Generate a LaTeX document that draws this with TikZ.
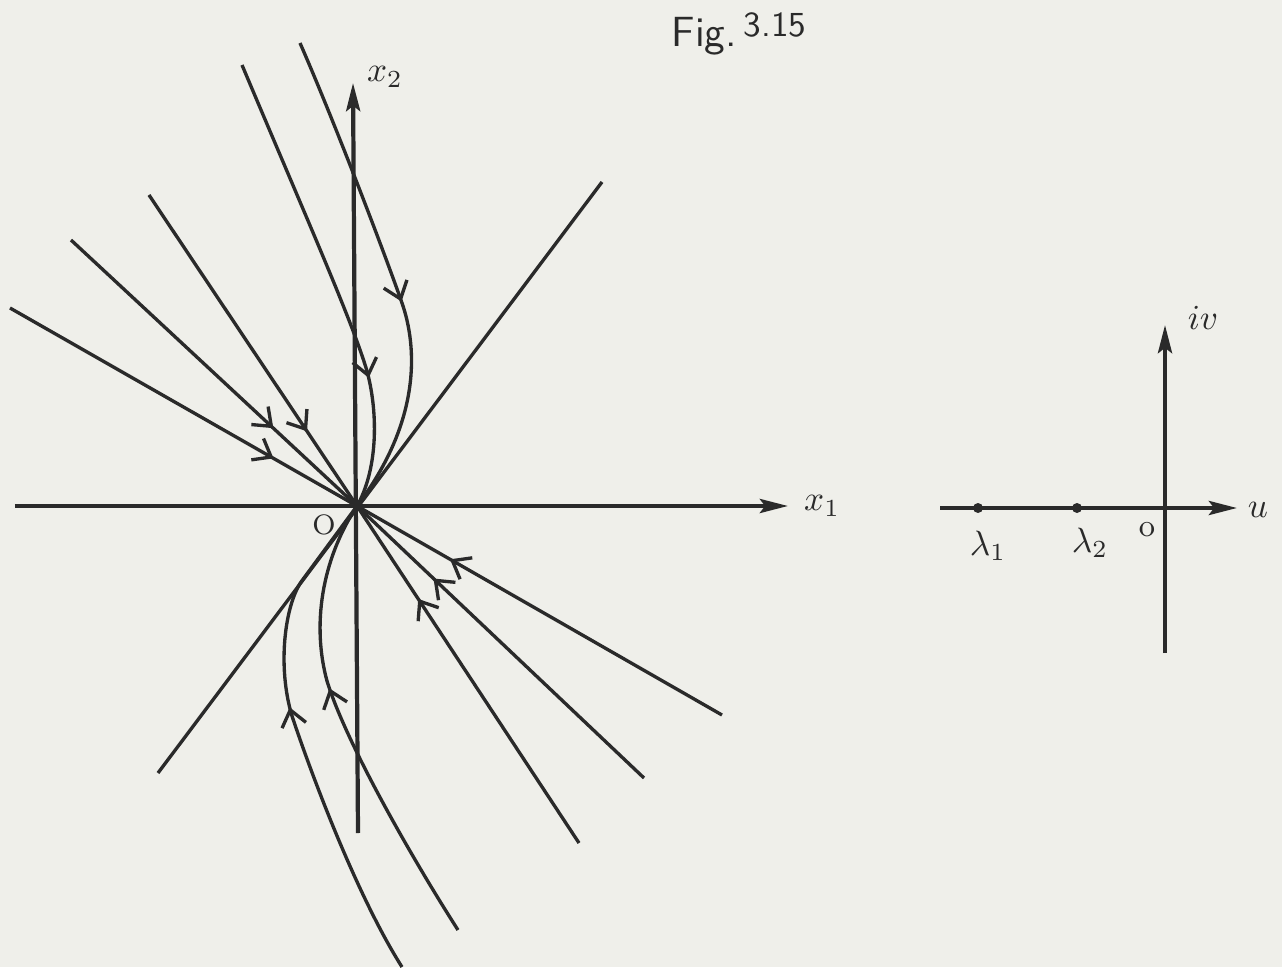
\documentclass[tikz,border=0pt]{standalone}
\usepackage{amsmath,amssymb}
\usepackage{tikz}
\usetikzlibrary{arrows.meta,decorations.markings,positioning,calc}
\definecolor{paper}{RGB}{239,239,234}
\definecolor{ink}{RGB}{42,42,42}

\begin{document}
\begin{tikzpicture}[
    axis/.style={draw=ink, line width=1.2pt, -{Stealth[length=8pt, width=4pt, inset=1.5pt]}},
    traj/.style={draw=ink, line width=0.95pt},
    flow/.style={traj, postaction={decorate}, decoration={markings,
        mark=at position #1 with {\arrow{Straight Barb[length=4.5pt, width=7pt, line width=0.95pt]}}}},
    lbl/.style={text=ink, inner sep=1pt},
    eig/.style={circle, fill=ink, inner sep=0pt, minimum size=0.1cm}]
% page (scanned sheet)
\fill[paper] (-3.57,-4.61) rectangle (9.25,5.06);
\useasboundingbox (-3.57,-4.61) rectangle (9.25,5.06);
% caption
\node[lbl, font=\sffamily] (fig) at (3.82,4.72) {\large Fig.\,\raisebox{3pt}{\normalsize 3.15}};
% phase plane axes
\coordinate (O) at (0,0);
\coordinate (X1a) at (-3.42,0);
\coordinate (X1b) at (4.31,0);
\coordinate (X2a) at (0.01,-3.27);
\coordinate (X2b) at (-0.04,4.23);
\draw[axis] (X1a) -- (X1b);
\draw[axis] (X2a) -- (X2b);
\node[lbl, right=0.12cm of X1b] (x1) {$x_1$};
\node[lbl] (x2) at (0.28,4.29) {$x_2$};
\node[lbl, font=\footnotesize] (o) at (-0.33,-0.19) {O};
% straight trajectories, upper left
\coordinate (A1) at (-3.47,1.98);
\coordinate (A2) at (-2.86,2.66);
\coordinate (A3) at (-2.08,3.11);
\draw[flow=0.76] (A1) -- (O);
\draw[flow=0.71] (A2) -- (O);
\draw[flow=0.76] (A3) -- (O);
% straight trajectories, lower right
\coordinate (B1) at (3.65,-2.09);
\coordinate (B2) at (2.87,-2.72);
\coordinate (B3) at (2.22,-3.37);
\draw[flow=0.745] (B1) -- (O);
\draw[flow=0.735] (B2) -- (O);
\draw[flow=0.725] (B3) -- (O);
% eigen-line through the node
\coordinate (E1) at (2.45,3.24);
\coordinate (E2) at (-1.99,-2.67);
\draw[traj] (E1) -- (E2);
% curved trajectories, top
\coordinate (C1) at (-1.15,4.41);
\coordinate (C2) at (-0.57,4.63);
\draw[flow=0.72] (C1) .. controls (-0.45,2.75) and (-0.05,1.85) .. (0.10,1.35)
    .. controls (0.22,0.90) and (0.20,0.35) .. (O);
\draw[flow=0.56] (C2) .. controls (-0.25,3.90) and (0.25,2.60) .. (0.45,2.03)
    .. controls (0.60,1.60) and (0.65,0.86) .. (O);
% curved trajectories, bottom
\coordinate (D1) at (1.01,-4.24);
\coordinate (D2) at (0.45,-4.61);
\draw[flow=0.59] (D1) .. controls (0.60,-3.60) and (-0.10,-2.40) .. (-0.30,-1.75)
    .. controls (-0.45,-1.20) and (-0.36,-0.55) .. (O);
\draw[flow=0.56] (D2) .. controls (0.00,-3.90) and (-0.45,-2.70) .. (-0.65,-2.10)
    .. controls (-0.80,-1.60) and (-0.72,-1.00) .. (-0.56,-0.76) -- (O);
% complex plane with the two roots
\coordinate (U0) at (5.83,-0.02);
\coordinate (U1) at (8.80,-0.02);
\coordinate (V0) at (8.08,-1.47);
\coordinate (V1) at (8.08,1.81);
\draw[axis] (U0) -- (U1);
\draw[axis] (V0) -- (V1);
\node[eig] (l1) at (6.21,-0.02) {};
\node[eig] (l2) at (7.20,-0.02) {};
\node[lbl] (l1t) at (6.31,-0.40) {$\lambda_1$};
\node[lbl] (l2t) at (7.33,-0.37) {$\lambda_2$};
\node[lbl, font=\small] (zero) at (7.90,-0.24) {o};
\node[lbl] (iv) at (8.46,1.88) {$i v$};
\node[lbl] (u) at (9.01,-0.04) {$u$};
\end{tikzpicture}
\end{document}
